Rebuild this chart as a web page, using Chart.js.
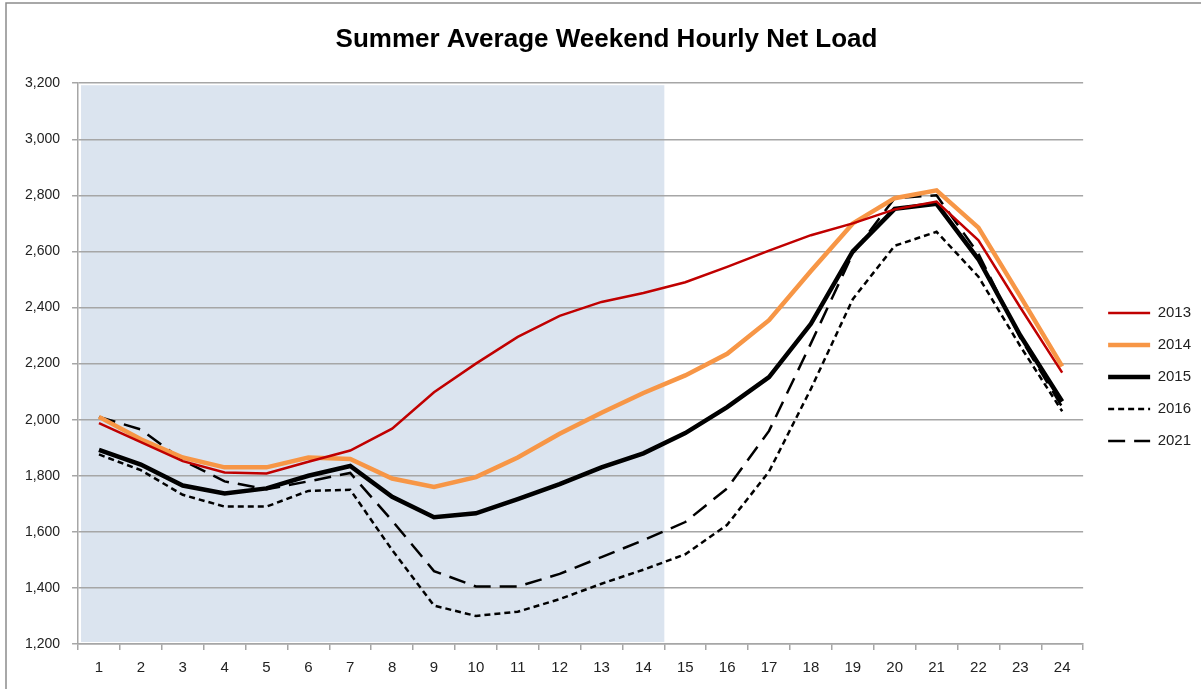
<!DOCTYPE html>
<html>
<head>
<meta charset="utf-8">
<script src="https://cdn.jsdelivr.net/npm/chart.js@4"></script>
<style>
  html, body { margin: 0; padding: 0; background: #fff; }
  #wrap { width: 1201px; height: 689px; position: relative; }
</style>
</head>
<body>
<div id="wrap"><canvas id="netLoadChart"></canvas></div>
<script>
    // ===================================
    // DATA
    // ===================================
    const hours = ['1','2','3','4','5','6','7','8','9','10','11','12',
                   '13','14','15','16','17','18','19','20','21','22','23','24'];

    const load2013 = [1988, 1920, 1852, 1812, 1808, 1850, 1890, 1968, 2098, 2200, 2295, 2370,
                      2420, 2452, 2490, 2545, 2603, 2658, 2700, 2750, 2778, 2640, 2400, 2168];
    const load2014 = [2010, 1930, 1865, 1830, 1830, 1865, 1860, 1790, 1760, 1795, 1865, 1950,
                      2025, 2095, 2158, 2235, 2355, 2530, 2700, 2790, 2818, 2685, 2440, 2190];
    const load2015 = [1892, 1840, 1765, 1737, 1755, 1800, 1835, 1725, 1652, 1666, 1717, 1770,
                      1830, 1880, 1952, 2045, 2152, 2342, 2600, 2752, 2770, 2572, 2300, 2065];
    const load2016 = [1876, 1820, 1732, 1690, 1690, 1746, 1750, 1535, 1337, 1300, 1315, 1360,
                      1415, 1465, 1520, 1625, 1815, 2110, 2430, 2620, 2670, 2510, 2262, 2030];
    const load2021 = [2010, 1965, 1855, 1780, 1752, 1780, 1810, 1640, 1460, 1405, 1405, 1450,
                      1510, 1570, 1635, 1755, 1960, 2272, 2592, 2790, 2800, 2592, 2292, 2045];

    const yTicks = [1200, 1400, 1600, 1800, 2000, 2200, 2400, 2600, 2800, 3000, 3200];
    const shadedUntilHour = 14; // morning/midday band

    const FONT = "'Liberation Sans', Arial, sans-serif";

    // --- shaded band + outer frame, drawn before the grid ---
    const backdropPlugin = {
        id: 'backdrop',
        afterInit(chart) {
            // a little extra room between plot and legend
            const legend = chart.legend;
            const fit = legend.fit;
            legend.fit = function () {
                fit.call(this);
                this.width += 7;
            };
        },
        afterLayout(chart) {
            chart.legend.left += 8;
            chart.legend.right += 8;
        },
        beforeDraw(chart) {
            const { ctx, chartArea, scales } = chart;
            const x = scales.x, y = scales.y;
            ctx.save();
            ctx.fillStyle = '#ffffff';
            ctx.fillRect(0, 0, chart.width, chart.height);
            // frame
            ctx.strokeStyle = '#8c8c8c';
            ctx.lineWidth = 1.5;
            ctx.beginPath();
            ctx.moveTo(6, chart.height);
            ctx.lineTo(6, 3);
            ctx.lineTo(chart.width, 3);
            ctx.stroke();
            // band
            const right = x.getPixelForValue(shadedUntilHour - 0.5);
            const top = y.getPixelForValue(3200) + 2;
            const bottom = y.getPixelForValue(1200) - 2;
            ctx.fillStyle = '#dbe4ef';
            ctx.fillRect(chartArea.left + 3, top, right - chartArea.left - 3, bottom - top);
            ctx.restore();
        }
    };

    const config = {
        type: 'line',
        data: {
            labels: hours,
            datasets: [
                { label: '2013', data: load2013, borderColor: '#c00000', borderWidth: 2.5 },
                { label: '2014', data: load2014, borderColor: '#f79646', borderWidth: 4.5 },
                { label: '2015', data: load2015, borderColor: '#000000', borderWidth: 4.5 },
                { label: '2016', data: load2016, borderColor: '#000000', borderWidth: 2.5, borderDash: [6, 4] },
                { label: '2021', data: load2021, borderColor: '#000000', borderWidth: 2.5, borderDash: [17, 9] }
            ].map(d => Object.assign({ backgroundColor: d.borderColor, pointRadius: 0, tension: 0, fill: false }, d))
        },
        options: {
            responsive: true,
            maintainAspectRatio: false,
            animation: false,
            layout: { padding: { left: 13, right: 1, top: 0, bottom: 3 } },
            plugins: {
                title: {
                    display: true,
                    text: 'Summer Average Weekend Hourly Net Load',
                    color: '#000',
                    font: { family: FONT, size: 26, weight: 'bold' },
                    padding: { top: 24, bottom: 28 }
                },
                legend: {
                    position: 'right',
                    // empty title only pushes the entries down a bit
                    title: { display: true, text: ' ', font: { size: 10 }, padding: { top: 28, bottom: 28 } },
                    labels: {
                        usePointStyle: true,
                        pointStyle: 'line',
                        pointStyleWidth: 42,
                        color: '#222',
                        font: { family: FONT, size: 15 },
                        padding: 17,
                        generateLabels: chart =>
                            Chart.defaults.plugins.legend.labels.generateLabels(chart).map(item => {
                                const ds = chart.data.datasets[item.datasetIndex];
                                item.lineDash = ds.borderDash || [];
                                item.lineWidth = ds.borderWidth;
                                return item;
                            })
                    }
                },
                tooltip: { enabled: false }
            },
            scales: {
                x: {
                    offset: true,
                    grid: {
                        offset: true,
                        drawOnChartArea: false,
                        color: '#a6a6a6',
                        tickLength: 6,
                        lineWidth: 1.5
                    },
                    border: { color: '#a6a6a6', width: 1.5 },
                    ticks: { color: '#222', font: { family: FONT, size: 15 }, padding: 9, maxRotation: 0 }
                },
                y: {
                    min: 1200,
                    max: 3200,
                    afterBuildTicks: axis => { axis.ticks = yTicks.map(v => ({ value: v })); },
                    grid: { color: '#a6a6a6', lineWidth: 1.5, tickLength: 6 },
                    border: { color: '#a6a6a6', width: 1.5 },
                    ticks: {
                        color: '#222',
                        font: { family: FONT, size: 14 },
                        padding: 12,
                        callback: v => v.toLocaleString('en-US')
                    }
                }
            }
        },
        plugins: [backdropPlugin]
    };

    // --- Render Chart ---
    const ctx = document.getElementById('netLoadChart').getContext('2d');
    new Chart(ctx, config);
</script>
</body>
</html>
